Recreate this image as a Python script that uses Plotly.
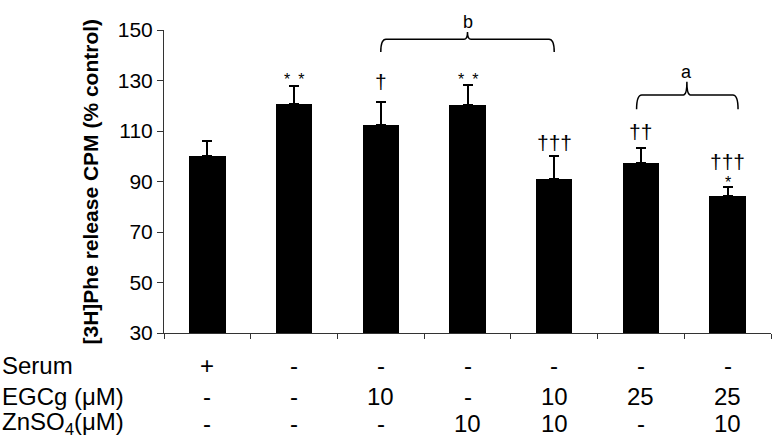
import plotly.graph_objects as go

# ---- data ----
groups = [1, 2, 3, 4, 5, 6, 7]
values = [100, 120.5, 112.3, 120.2, 91, 97.5, 84.2]
errors = [6, 7.2, 9.3, 8, 9, 5.8, 3.5]

serum = ["+", "-", "-", "-", "-", "-", "-"]
egcg = ["-", "-", "10", "-", "10", "25", "25"]
znso4 = ["-", "-", "-", "10", "10", "-", "10"]
row_labels = ["Serum", "EGCg (μM)", "ZnSO<sub>4</sub>(μM)"]

# significance marks
sig_text = ["* *", "†", "* *", "†††", "††", "†††", "*"]
sig_group = [2, 3, 4, 5, 6, 7, 7]
sig_y = [132, 129.2, 132, 105.1, 109.3, 97.5, 91.3]

# braces
brace_start = [3, 6 - 0.05]
brace_end = [5, 7 + 0.12]
brace_mid = [4, 6.53]
brace_ybase = [141.3, 118.6]
brace_ybar = [146.3, 124.3]
brace_ypeak = [149.2, 129.5]
brace_label = ["b", "a"]

yticks = [30, 50, 70, 90, 110, 130, 150]

FONT = "Liberation Sans, Arial, Helvetica, sans-serif"

xpos = [g - 0.5 for g in groups]

fig = go.Figure()
fig.add_trace(go.Bar(
    x=xpos, y=values, width=0.42,
    marker=dict(color="black", line=dict(width=0)),
    error_y=dict(type="data", array=errors, arrayminus=[0] * len(errors),
                 symmetric=False, color="black", thickness=2, width=5),
    showlegend=False, hoverinfo="skip",
))

for g, t, y in zip(sig_group, sig_text, sig_y):
    is_star = "*" in t
    fig.add_annotation(
        x=g - 0.5, y=y, xref="x", yref="y", text=t.replace(" ", "\u2002"),
        showarrow=False, yanchor="middle",
        yshift=-4 if is_star else 1,
        font=dict(family=FONT, size=16 if is_star else 21, color="black"),
    )

for x0, x1, xm, yb, yh, yp, lab in zip(brace_start, brace_end, brace_mid,
                                        brace_ybase, brace_ybar, brace_ypeak,
                                        brace_label):
    x0 -= 0.5
    x1 -= 0.5
    xm -= 0.5
    dc = 0.06
    dm = 0.04
    path = (f"M {x0},{yb} Q {x0},{yh} {x0 + dc},{yh} L {xm - dm},{yh} "
            f"Q {xm},{yh} {xm},{yp} Q {xm},{yh} {xm + dm},{yh} "
            f"L {x1 - dc},{yh} Q {x1},{yh} {x1},{yb}")
    fig.add_shape(type="path", path=path, xref="x", yref="y",
                  line=dict(color="black", width=1.5))
    fig.add_annotation(x=xm, y=yp, xref="x", yref="y", text=lab,
                       showarrow=False, yanchor="bottom", yshift=-2,
                       font=dict(family=FONT, size=18, color="black"))

row_shift = [-32, -63, -90]
for rl, rows, ys in zip(row_labels, [serum, egcg, znso4], row_shift):
    fig.add_annotation(x=0, y=0, xref="paper", yref="paper", xshift=-164,
                       yshift=ys, text=rl, showarrow=False,
                       xanchor="left", yanchor="middle",
                       font=dict(family=FONT, size=24, color="black"))
    for xp, v in zip(xpos, rows):
        fig.add_annotation(x=xp, y=0, xref="x", yref="paper", yshift=ys,
                           text=v, showarrow=False, xanchor="center",
                           yanchor="middle",
                           font=dict(family=FONT, size=24, color="black"))

fig.add_annotation(x=0, y=0.5, xref="paper", yref="paper", xshift=-74,
                   text="<b>[3H]Phe release CPM (% control)</b>",
                   textangle=-90, showarrow=False, xanchor="center",
                   yanchor="middle",
                   font=dict(family=FONT, size=21, color="black"))

fig.update_layout(
    width=773, height=442,
    margin=dict(l=164, r=2, t=30, b=109),
    paper_bgcolor="white", plot_bgcolor="white",
    bargap=0,
    xaxis=dict(range=[0, 7], tickvals=list(range(8)), showticklabels=False,
               ticks="outside", ticklen=5, tickcolor="#333", tickwidth=1,
               showline=True, linecolor="#333", linewidth=1,
               showgrid=False, zeroline=False),
    yaxis=dict(range=[30, 150], tickvals=yticks, ticks="outside", ticklen=6,
               tickcolor="#333", tickwidth=1, showline=True, linecolor="#333",
               linewidth=1, showgrid=False, zeroline=False,
               tickfont=dict(family=FONT, size=21, color="black")),
)

fig.write_html("out.html", config={"displayModeBar": False},
               post_script="document.body.style.margin='0';document.body.style.overflow='hidden';")
